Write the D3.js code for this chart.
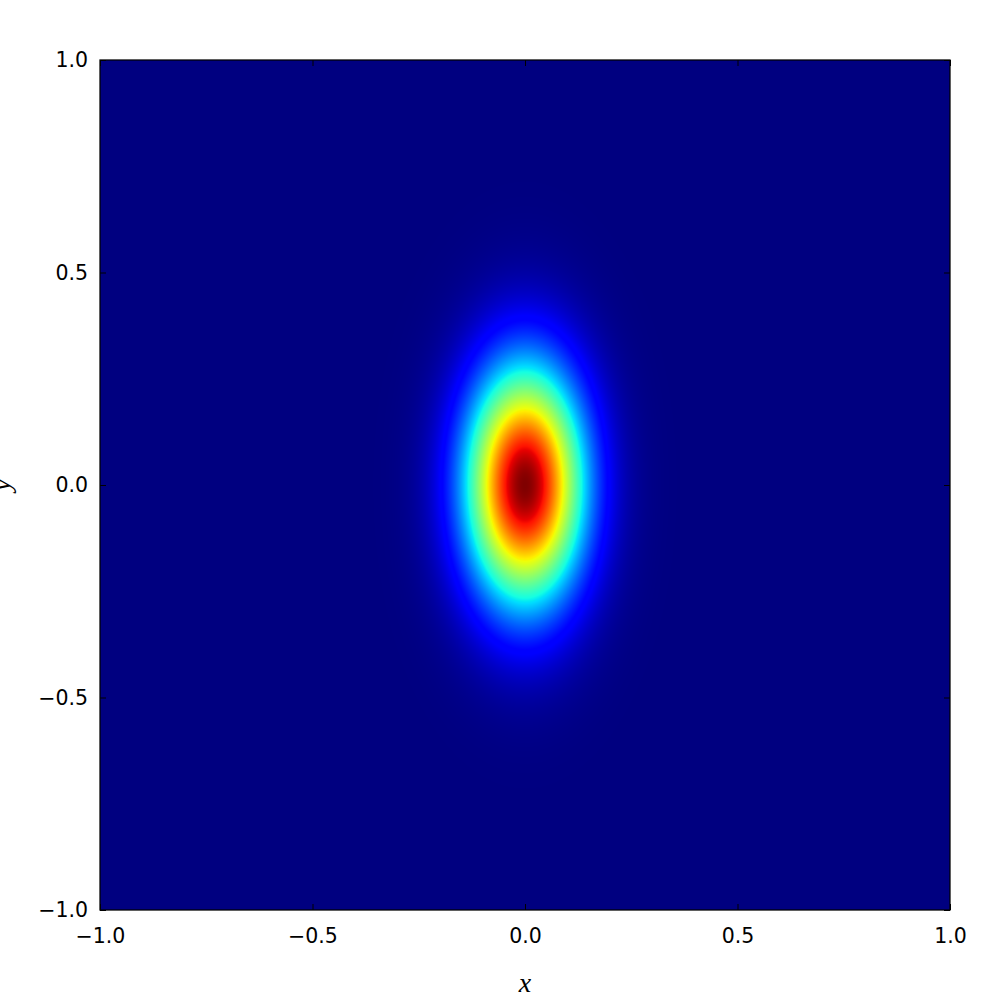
<!DOCTYPE html>
<html>
<head>
<meta charset="utf-8">
<script src="https://cdn.jsdelivr.net/npm/d3@7"></script>
<style>
  body { margin: 0; background: #fff; }
  svg { display: block; }
  .tick text { font-family: "DejaVu Sans", sans-serif; font-size: 20.5px; fill: #000; }
  .tick line { stroke: #000; stroke-width: 1; }
  .axis-label { font-family: "Liberation Serif", "DejaVu Serif", serif; font-style: italic; font-size: 28px; }
</style>
</head>
<body>
<svg id="chart" width="1000" height="1000"></svg>
<script>
// data
var xDomain = [-1, 1];
var yDomain = [-1, 1];
var xTicks = [-1.0, -0.5, 0.0, 0.5, 1.0];
var yTicks = [-1.0, -0.5, 0.0, 0.5, 1.0];
var peakCenter = [0.0, 0.0];     // x, y of the maximum
var peakSigma = [0.095, 0.19];   // spread along x, along y
var peakValue = [1.0];

// jet colormap, matplotlib segment data
var jetRed   = [[0, 0], [0.35, 0], [0.66, 1], [0.89, 1], [1, 0.5]];
var jetGreen = [[0, 0], [0.125, 0], [0.375, 1], [0.64, 1], [0.91, 0], [1, 0]];
var jetBlue  = [[0, 0.5], [0.11, 1], [0.34, 1], [0.65, 0], [1, 0]];

var margin = { top: 60, left: 100, right: 50, bottom: 90 };
var width = 1000 - margin.left - margin.right;
var height = 1000 - margin.top - margin.bottom;

var x = d3.scaleLinear().domain(xDomain).range([0, width]);
var y = d3.scaleLinear().domain(yDomain).range([height, 0]);

function channel(stops) {
  return d3.scaleLinear()
    .domain(stops.map(function(d) { return d[0]; }))
    .range(stops.map(function(d) { return d[1] * 255; }))
    .clamp(true);
}
var red = channel(jetRed), green = channel(jetGreen), blue = channel(jetBlue);
var color = d3.scaleLinear().domain([0, peakValue[0]]).range([0, 1]).clamp(true);

function field(px, py) {
  var dx = (px - peakCenter[0]) / peakSigma[0];
  var dy = (py - peakCenter[1]) / peakSigma[1];
  return peakValue[0] * Math.exp(-0.5 * (dx * dx + dy * dy));
}

// paint the field into an offscreen canvas, one cell per pixel
var canvas = document.createElement("canvas");
canvas.width = width;
canvas.height = height;
var ctx = canvas.getContext("2d");
var img = ctx.createImageData(width, height);
for (var j = 0; j < height; j++) {
  var yv = y.invert(j + 0.5);
  for (var i = 0; i < width; i++) {
    var t = color(field(x.invert(i + 0.5), yv));
    var k = (j * width + i) * 4;
    img.data[k] = red(t);
    img.data[k + 1] = green(t);
    img.data[k + 2] = blue(t);
    img.data[k + 3] = 255;
  }
}
ctx.putImageData(img, 0, 0);

var svg = d3.select("#chart");
var g = svg.append("g")
           .attr("transform", "translate(" + margin.left + "," + margin.top + ")");

g.append("image")
 .attr("x", 0)
 .attr("y", 0)
 .attr("width", width)
 .attr("height", height)
 .attr("preserveAspectRatio", "none")
 .attr("href", canvas.toDataURL());

function fmt(d) { return d3.format(".1f")(d).replace("-", "\u2212"); }

// ticks point inwards on all four sides, labels only bottom and left
g.append("g")
 .attr("transform", "translate(0," + height + ")")
 .call(d3.axisBottom(x).tickValues(xTicks).tickFormat(fmt).tickSizeInner(-6).tickSizeOuter(0).tickPadding(18));
g.append("g")
 .call(d3.axisLeft(y).tickValues(yTicks).tickFormat(fmt).tickSizeInner(-6).tickSizeOuter(0).tickPadding(12));
g.append("g")
 .call(d3.axisTop(x).tickValues(xTicks).tickFormat("").tickSizeInner(-6).tickSizeOuter(0));
g.append("g")
 .attr("transform", "translate(" + width + ",0)")
 .call(d3.axisRight(y).tickValues(yTicks).tickFormat("").tickSizeInner(-6).tickSizeOuter(0));

g.selectAll(".domain").remove();

g.append("rect")
 .attr("x", 0)
 .attr("y", 0)
 .attr("width", width)
 .attr("height", height)
 .attr("fill", "none")
 .attr("stroke", "#000")
 .attr("stroke-width", 1.25);

svg.append("text")
   .attr("class", "axis-label")
   .attr("x", margin.left + width / 2)
   .attr("y", 992)
   .attr("text-anchor", "middle")
   .text("x");

svg.append("text")
   .attr("class", "axis-label")
   .attr("transform", "translate(10," + (margin.top + height / 2) + ") rotate(-90)")
   .attr("text-anchor", "middle")
   .text("y");
</script>
</body>
</html>
